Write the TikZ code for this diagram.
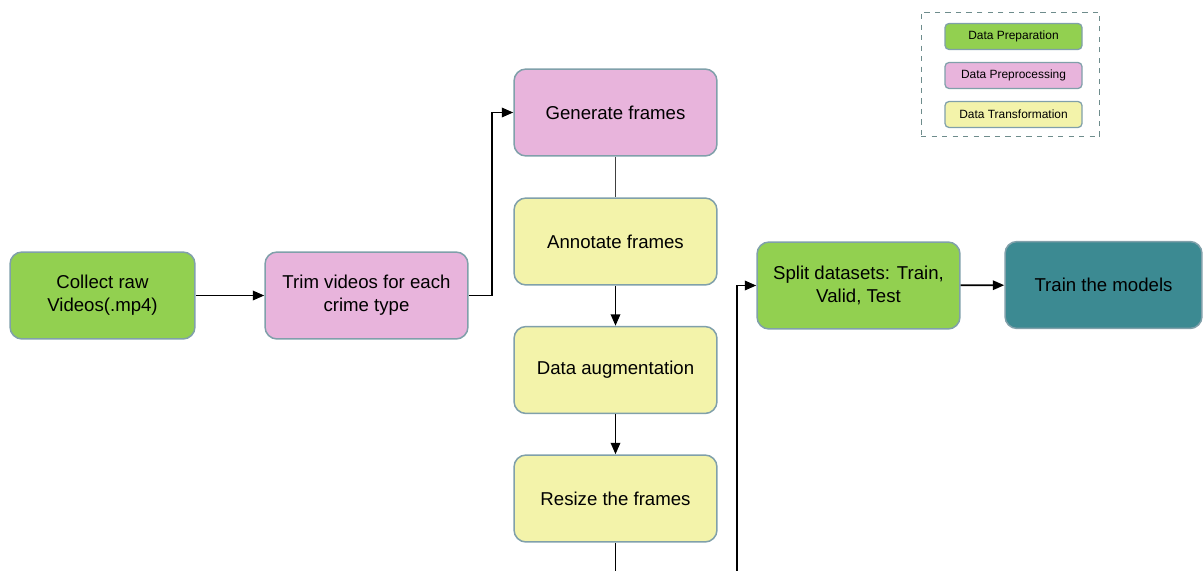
\documentclass[tikz,border=0pt]{standalone}
\usepackage{fontspec}
\setmainfont{Liberation Sans}
\usetikzlibrary{arrows.meta,positioning}
\definecolor{prepgreen}{RGB}{146, 208, 80}
\definecolor{preppink}{RGB}{232, 180, 220}
\definecolor{transyellow}{RGB}{243, 243, 170}
\definecolor{modelteal}{RGB}{60, 138, 146}
\definecolor{boxborder}{RGB}{128, 160, 170}
\definecolor{legendborder}{RGB}{110, 140, 140}

\begin{document}
\begin{tikzpicture}[
        x=0.02cm, y=-0.02cm,
        stage/.style={rectangle, rounded corners=2.4mm, draw=boxborder, line width=0.3mm, minimum width=4.06cm, minimum height=1.74cm, align=center, font=\fontsize{10.6}{13}\selectfont, text=black},
        prep/.style={stage, fill=prepgreen},
        preproc/.style={stage, fill=preppink},
        transform/.style={stage, fill=transyellow},
        model/.style={stage, fill=modelteal},
        legendbox/.style={rectangle, rounded corners=0.8mm, draw=boxborder, line width=0.25mm, minimum width=2.74cm, minimum height=0.52cm, font=\fontsize{6.8}{8}\selectfont},
        flow/.style={-{Triangle[length=2.3mm,width=1.9mm]}, line width=0.36mm},
        link/.style={line width=0.2mm, draw=black!75}
    ]
    \useasboundingbox (0,0) rectangle (1203,571);

    % Stages
    \node[prep, minimum width=3.7cm] (collect) at (102.5, 295.5) {Collect raw\\Videos(.mp4)};
    \node[preproc] (trim) at (366.5, 295.5) {Trim videos for each\\crime type};
    \node[preproc] (generate) at (615.5, 112.5) {Generate frames};
    \node[transform] (annotate) at (615.5, 241.5) {Annotate frames};
    \node[transform] (augment) at (615.5, 370) {Data augmentation};
    \node[transform] (resize) at (615.5, 498.5) {Resize the frames};
    \node[prep] (split) at (858.5, 285.5) {Split datasets: Train,\\Valid, Test};
    \node[model, minimum width=3.94cm] (train) at (1103.5, 285) {Train the models};

    % Legend
    \node[draw=legendborder, dashed, line width=0.2mm, minimum width=3.58cm, minimum height=2.5cm] (legend) at (1010.5, 74.5) {};
    \node[legendbox, fill=prepgreen] (leg_prep) at (1013.5, 36.5) {Data Preparation};
    \node[legendbox, fill=preppink] (leg_preproc) at (1013.5, 75.5) {Data Preprocessing};
    \node[legendbox, fill=transyellow] (leg_trans) at (1013.5, 114.5) {Data Transformation};

    % Off-page ends
    \coordinate (resize_out) at (615.5, 575);
    \coordinate (split_in) at (737, 575);

    % Flows
    \draw[flow] (collect) -- (trim);
    \draw[flow] (trim.east) -- ++(23,0) |- (generate.west);
    \draw[link] (generate) -- (annotate);
    \draw[flow] (annotate) -- (augment);
    \draw[flow] (augment) -- (resize);
    \draw[line width=0.36mm] (resize) -- (resize_out);
    \draw[flow] (split_in) |- (split.west);
    \draw[flow] (split) -- (train);

\end{tikzpicture}
\end{document}
